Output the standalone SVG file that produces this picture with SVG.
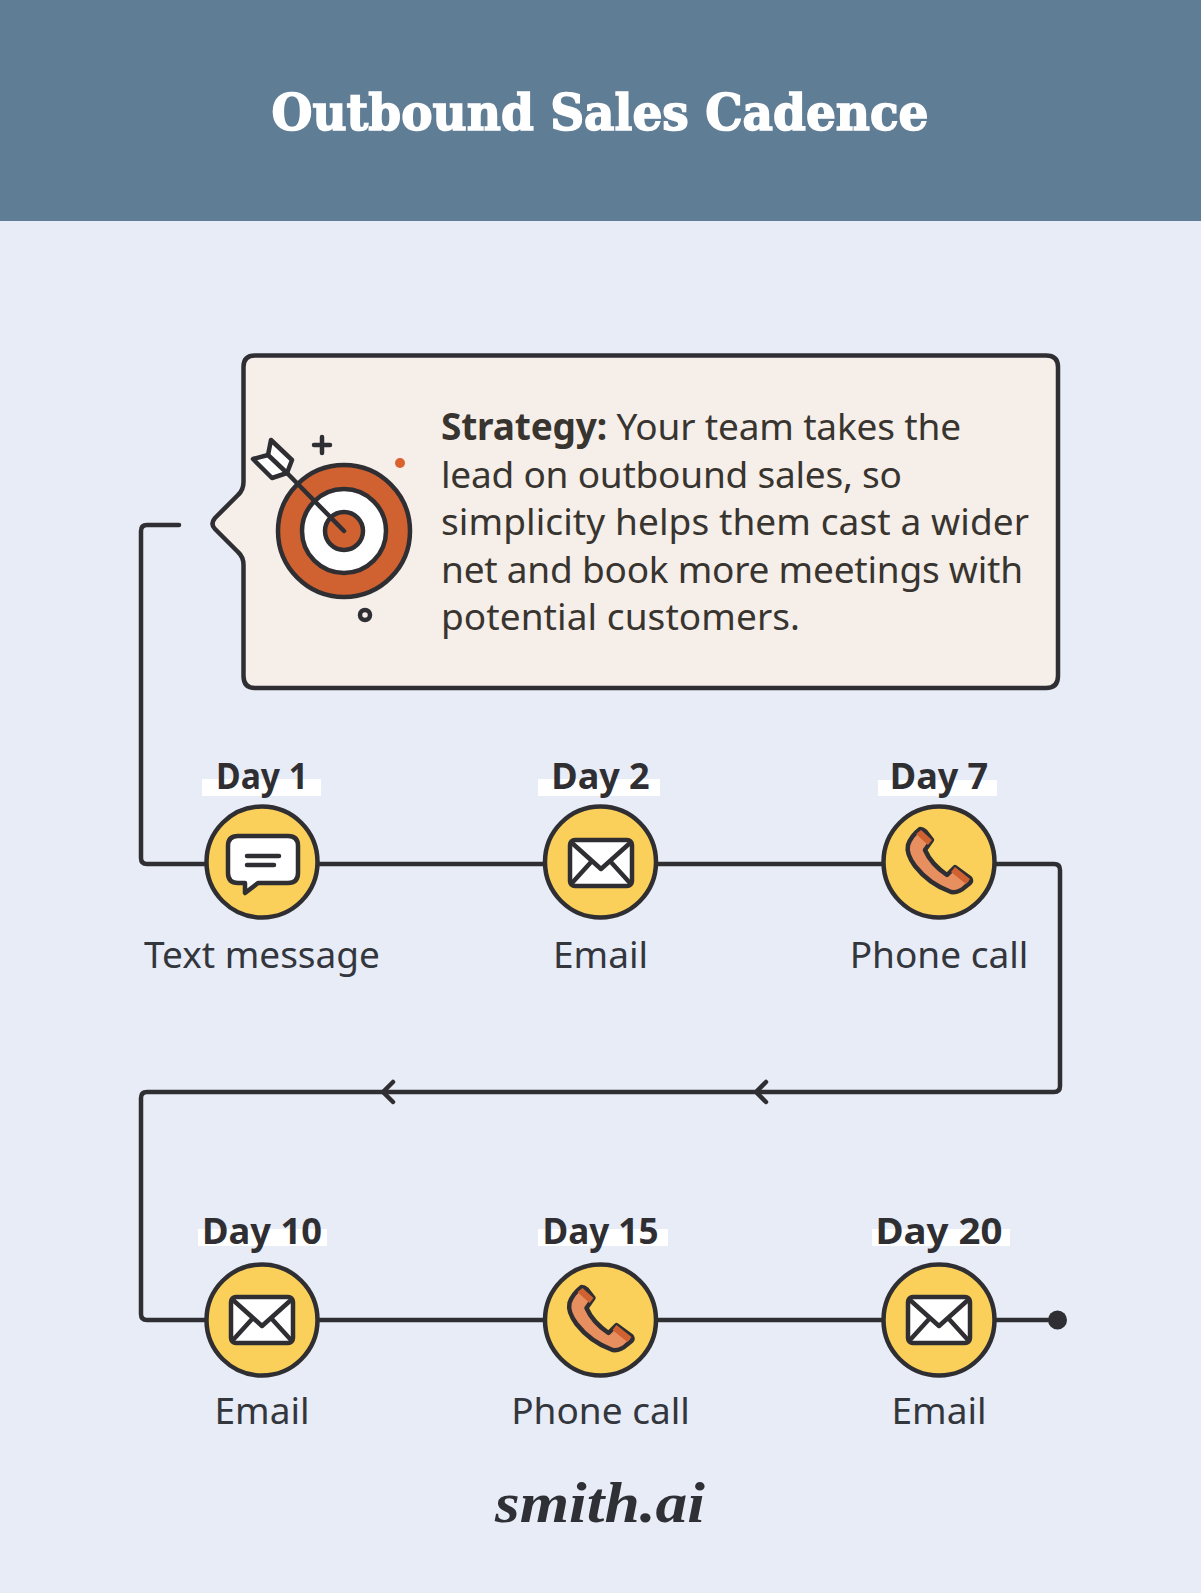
<svg xmlns="http://www.w3.org/2000/svg" width="1201" height="1593" viewBox="0 0 1201 1593">
<style>
.ink{stroke:#2f2f33;stroke-width:4.500;stroke-linejoin:round;stroke-linecap:round}
.wire{fill:none;stroke:#2f2f33;stroke-width:4.500;stroke-linejoin:round;stroke-linecap:round}
.hl{fill:#fff}
.node{fill:#fbd05a;stroke:#2f2f33;stroke-width:4.500}
.day{font:700 36px "Noto Sans","Liberation Sans",sans-serif;fill:#2f2f33;text-anchor:middle}
.lab{font:400 37px "Noto Sans","Liberation Sans",sans-serif;fill:#33363c;text-anchor:middle}
.body{font:400 37px "Noto Sans","Liberation Sans",sans-serif;fill:#38342f}
</style>
<defs>
<g id="env"><rect x="-31" y="-23" width="62" height="46" rx="5" fill="#fff" class="ink"/><path d="M-29,-20 L0,6 L29,-20 M-29,20 L-9,-2 M29,20 L9,-2" fill="none" class="ink"/></g>
<g id="phone"><path d="M-19,-33 Q-16,-33 -14,-31 L-7,-22 L-14,-12 Q-8,2 8,13 L16,5 L31,16 Q33,19 31,21 L26,25 Q20,31 12,30 Q-10,22 -24,4 Q-33,-8 -31,-17 Q-28,-26 -19,-33Z" fill="#e88f5f" class="ink"/><path d="M-18,-32 L-7,-22 L-11,-17 L-23,-28Z M16,5 L31,17 L27,22 L12,10Z" fill="#cf6230"/></g>
</defs>
<rect width="1201" height="1593" fill="#e8ecf6"/>
<rect width="1201" height="221" fill="#607d96"/>
<text x="600" y="130" text-anchor="middle" font-family="DejaVu Serif" font-weight="700" font-size="50" fill="#fff" stroke="#fff" stroke-width="1.600" textLength="657" lengthAdjust="spacingAndGlyphs">Outbound Sales Cadence</text>
<g id="connectors">
<path class="wire" d="M179,525 H147 Q141,525 141,531 V858 Q141,864 147,864 H1054 Q1060,864 1060,870 V1086 Q1060,1092 1054,1092 H147 Q141,1092 141,1098 V1314 Q141,1320 147,1320 H1057"/>
<path class="wire" d="M393,1082 L383,1092 L393,1102 M766,1082 L756,1092 L766,1102"/>
<circle cx="1057.500" cy="1320" r="9.500" fill="#2f2f33"/>
</g>
<g id="strategy">
<path d="M243.500,367 Q243.500,355.500 255,355.500 H1046 Q1058,355.500 1058,367 V676 Q1058,688 1046,688 H255 Q243.500,688 243.500,676 V565 Q243.500,557 238,552 L215,529 Q210,524 215,518 L238,495 Q243.500,490 243.500,482 Z" fill="#f5eee9" class="ink"/>
<circle cx="344" cy="531" r="66" fill="#cf6230" class="ink"/>
<circle cx="344" cy="531" r="42" fill="#fff" class="ink"/>
<circle cx="344" cy="531" r="19" fill="#cf6230" class="ink"/>
<path d="M344,531 L287,473" fill="none" class="ink"/>
<path d="M271,440 L292,460 L287,473 L272,478 L253,459 L268,455Z" fill="#fff" class="ink"/>
<path d="M268,455 L287,473" fill="none" class="ink"/>
<path d="M322,437 V453 M314,445 H330" fill="none" class="ink"/>
<circle cx="400" cy="463" r="5" fill="#d9622f"/>
<circle cx="365" cy="615" r="5" fill="none" class="ink"/>
<text class="body" x="441" y="440" textLength="520"><tspan font-weight="700">Strategy:</tspan> Your team takes the</text>
<text class="body" x="441" y="487.500" textLength="461">lead on outbound sales, so</text>
<text class="body" x="441" y="535" textLength="588">simplicity helps them cast a wider</text>
<text class="body" x="441" y="582.500" textLength="582">net and book more meetings with</text>
<text class="body" x="441" y="630" textLength="359">potential customers.</text>
</g>
<g id="day1">
<rect class="hl" x="202" y="779" width="119" height="17"/>
<text class="day" x="262" y="789" textLength="92" lengthAdjust="spacingAndGlyphs">Day 1</text>
<circle class="node" cx="262" cy="862" r="55.500"/>
<path d="M238,836 H288 Q298,836 298,846 V873 Q298,883 288,883 H258 L245,893 V883 H238 Q228,883 228,873 V846 Q228,836 238,836Z" fill="#fff" class="ink"/>
<path d="M247,856 H279 M247,865 H274" fill="none" class="ink"/>
<text class="lab" x="262" y="968">Text message</text>
</g>
<g id="day2">
<rect class="hl" x="538" y="779" width="122" height="17"/>
<text class="day" x="600.500" y="789">Day 2</text>
<circle class="node" cx="600.500" cy="862" r="55.500"/>
<use href="#env" x="601" y="863"/>
<text class="lab" x="600.500" y="968">Email</text>
</g>
<g id="day7">
<rect class="hl" x="878" y="780" width="119" height="16"/>
<text class="day" x="939" y="789">Day 7</text>
<circle class="node" cx="939" cy="862" r="55.500"/>
<use href="#phone" x="939" y="862"/>
<text class="lab" x="939" y="968">Phone call</text>
</g>
<g id="day10">
<rect class="hl" x="198" y="1229" width="129" height="17"/>
<text class="day" x="262" y="1244" textLength="120" lengthAdjust="spacingAndGlyphs">Day 10</text>
<circle class="node" cx="262" cy="1320" r="55.500"/>
<use href="#env" x="262" y="1320"/>
<text class="lab" x="262" y="1424">Email</text>
</g>
<g id="day15">
<rect class="hl" x="538" y="1229" width="130" height="17"/>
<text class="day" x="600.500" y="1244" textLength="116" lengthAdjust="spacingAndGlyphs">Day 15</text>
<circle class="node" cx="600.500" cy="1320" r="55.500"/>
<use href="#phone" x="600.500" y="1320"/>
<text class="lab" x="600.500" y="1424">Phone call</text>
</g>
<g id="day20">
<rect class="hl" x="872" y="1229" width="138" height="17"/>
<text class="day" x="939" y="1244" textLength="127" lengthAdjust="spacingAndGlyphs">Day 20</text>
<circle class="node" cx="939" cy="1320" r="55.500"/>
<use href="#env" x="939" y="1320"/>
<text class="lab" x="939" y="1424">Email</text>
</g>
<text x="600" y="1522" text-anchor="middle" font-family="Liberation Serif" font-style="italic" font-weight="700" font-size="58" fill="#2f3036" textLength="210" lengthAdjust="spacingAndGlyphs">smith.ai</text>
</svg>
